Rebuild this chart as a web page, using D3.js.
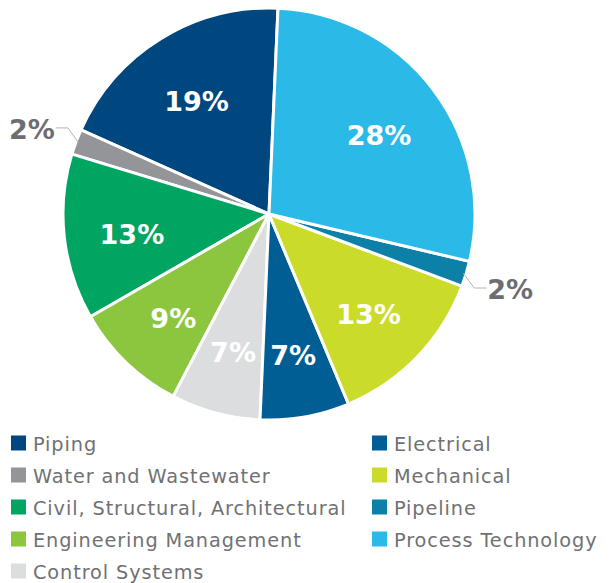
<!DOCTYPE html>
<html>
<head>
<meta charset="utf-8">
<script src="https://cdn.jsdelivr.net/npm/d3@7/dist/d3.min.js"></script>
<style>
  html, body { margin: 0; padding: 0; background: #ffffff; }
  svg { display: block; }
</style>
</head>
<body>
<svg id="chart" width="615" height="583"></svg>
<script>
// Discipline split, listed in legend order (counter-clockwise around the pie from Piping)
const categories = [
  "Piping",
  "Water and Wastewater",
  "Civil, Structural, Architectural",
  "Engineering Management",
  "Control Systems",
  "Electrical",
  "Mechanical",
  "Pipeline",
  "Process Technology"
];
const shares = [19, 2, 13, 9, 7, 7, 13, 2, 28];
const colors = [
  "#00467f", "#939598", "#00a562", "#8cc63f", "#dcdddf",
  "#005e95", "#cadb2a", "#0d80a7", "#2bb9e7"
];
// Slices too thin for an inside label get a leader line and an outside label
const outsideLabels = ["Water and Wastewater", "Pipeline"];

const data = categories.map((c, i) => ({ name: c, value: shares[i], color: colors[i] }));

const svg = d3.select("#chart");
const cx = 269, cy = 214, R = 206;
const offset = 2.5 * Math.PI / 180;

const pie = d3.pie()
  .sort(null)
  .value(d => d.value)
  .startAngle(offset)
  .endAngle(offset - 2 * Math.PI);

const arcs = pie(data);
const arc = d3.arc().innerRadius(0).outerRadius(R);
const labelArc = d3.arc().innerRadius(R * 0.67).outerRadius(R * 0.67);

const g = svg.append("g").attr("transform", `translate(${cx},${cy})`);

g.selectAll("path.slice")
  .data(arcs)
  .join("path")
  .attr("class", "slice")
  .attr("d", arc)
  .attr("fill", d => d.data.color)
  .attr("stroke", "#ffffff")
  .attr("stroke-width", 3)
  .attr("stroke-linejoin", "round");

const labelFont = "'DejaVu Sans', sans-serif";

// Inside labels, nudged slightly below the centroid
g.selectAll("text.inside")
  .data(arcs.filter(d => !outsideLabels.includes(d.data.name)))
  .join("text")
  .attr("class", "inside")
  .attr("transform", d => {
    const [x, y] = labelArc.centroid(d);
    return `translate(${x},${y + 5})`;
  })
  .attr("text-anchor", "middle")
  .attr("dy", "0.36em")
  .attr("font-family", labelFont)
  .attr("font-weight", "bold")
  .attr("font-size", 27)
  .attr("fill", "#ffffff")
  .text(d => d.value + "%");

// Outside labels with leader lines
const outer = arcs.filter(d => outsideLabels.includes(d.data.name));
outer.forEach(d => {
  const mid = (d.startAngle + d.endAngle) / 2;
  const sx = Math.sin(mid), sy = -Math.cos(mid);
  const a = [(R - 3) * sx, (R - 3) * sy];
  const side = sx >= 0 ? 1 : -1;
  const vert = sy >= 0 ? 1 : -1;
  const b = [a[0] + side * 11, a[1] + vert * 15];
  const c = [b[0] + side * 12, b[1]];
  g.append("polyline")
    .attr("points", [a, b, c].map(p => p.join(",")).join(" "))
    .attr("fill", "none")
    .attr("stroke", "#b3b4b6")
    .attr("stroke-width", 1);
  g.append("text")
    .attr("x", c[0] + side * 1)
    .attr("y", c[1] + 1)
    .attr("dy", "0.36em")
    .attr("text-anchor", side > 0 ? "start" : "end")
    .attr("font-family", labelFont)
    .attr("font-weight", "bold")
    .attr("font-size", 27)
    .attr("fill", "#6d6e71")
    .text(d.value + "%");
});

// Legend: two columns, five rows on the left, four on the right
const legend = svg.append("g");
const rowH = 32, firstBase = 451, sq = 15;
const colX = [11, 372];
const item = legend.selectAll("g.item")
  .data(data)
  .join("g")
  .attr("class", "item")
  .attr("transform", (d, i) => {
    const col = i < 5 ? 0 : 1;
    const row = i < 5 ? i : i - 5;
    return `translate(${colX[col]},${firstBase + row * rowH})`;
  });

item.append("rect")
  .attr("x", 0)
  .attr("y", -sq - 0.5)
  .attr("width", sq)
  .attr("height", sq)
  .attr("fill", d => d.color);

item.append("text")
  .attr("x", 22)
  .attr("y", 0)
  .attr("font-family", labelFont)
  .attr("font-size", 19.3)
  .attr("letter-spacing", "0.9px")
  .attr("fill", "#707174")
  .text(d => d.name);
</script>
</body>
</html>
